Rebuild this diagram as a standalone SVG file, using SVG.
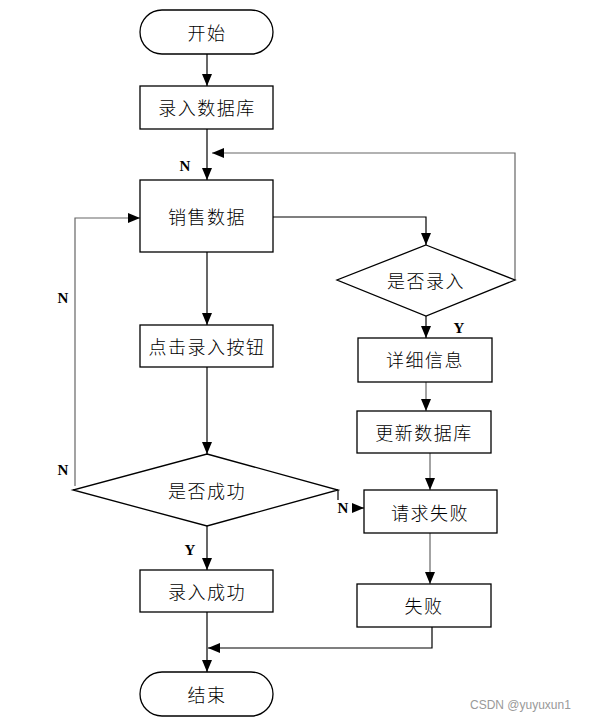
<svg xmlns="http://www.w3.org/2000/svg" width="593" height="721" viewBox="0 0 593 721">
<defs>
<marker id="ah" viewBox="0 0 12 10" refX="12" refY="5" markerWidth="12" markerHeight="10" markerUnits="userSpaceOnUse" orient="auto"><path d="M0,0 L12,5 L0,10 z" fill="#000"/></marker>
<style>
.n rect,.n path{fill:#fff;stroke:#000;stroke-width:1.3}
.t{font-family:"Noto Sans CJK SC","Liberation Serif",serif;font-size:18px;font-weight:300;letter-spacing:1.5px;fill:#000;text-anchor:middle;dominant-baseline:central}
.l{font-family:"Liberation Serif",serif;font-size:15px;font-weight:bold;fill:#000;text-anchor:middle;dominant-baseline:central}
.c path{fill:none;stroke:#000;stroke-width:1.2}
.c path.g{stroke:#666}
.w{font-family:"Liberation Sans",sans-serif;font-size:12px;fill:#999}
</style>
</defs>
<rect width="593" height="721" fill="#fff"/>
<g class="c" id="connectors">
<path d="M207,54 V86" marker-end="url(#ah)"/>
<path d="M207,129 V180" marker-end="url(#ah)"/>
<path class="g" d="M515,280 V153 H212" marker-end="url(#ah)"/>
<path d="M273,217 H426 V245" marker-end="url(#ah)"/>
<path d="M426,316 V338" marker-end="url(#ah)"/>
<path class="g" d="M426,382 V411" marker-end="url(#ah)"/>
<path class="g" d="M430,453 V490" marker-end="url(#ah)"/>
<path class="g" d="M430,533 V584" marker-end="url(#ah)"/>
<path d="M432,627 V648 H208" marker-end="url(#ah)"/>
<path d="M207,252 V325" marker-end="url(#ah)"/>
<path d="M207,367 V454" marker-end="url(#ah)"/>
<path class="g" d="M75,486 V218 H140" marker-end="url(#ah)"/>
<path d="M338,490 V508 H364" marker-end="url(#ah)"/>
<path d="M207,526 V570" marker-end="url(#ah)"/>
<path d="M207,612 V672" marker-end="url(#ah)"/>
</g>
<g class="n" id="start"><rect x="140" y="10" width="133" height="44" rx="22"/><text class="t" x="207" y="32">开始</text></g>
<g class="n" id="luru"><rect x="140" y="86" width="133" height="43"/><text class="t" x="207" y="107">录入数据库</text></g>
<g class="n" id="xiaoshou"><rect x="140" y="180" width="133" height="72"/><text class="t" x="207" y="216">销售数据</text></g>
<g class="n" id="dianji"><rect x="140" y="325" width="133" height="42"/><text class="t" x="207" y="346">点击录入按钮</text></g>
<g class="n" id="shifouchenggong"><path d="M207,454 L338,490 L207,526 L73,490 Z"/><text class="t" x="207" y="490">是否成功</text></g>
<g class="n" id="lurucg"><rect x="140" y="570" width="133" height="42"/><text class="t" x="207" y="591">录入成功</text></g>
<g class="n" id="end"><rect x="140" y="672" width="133" height="44" rx="22"/><text class="t" x="207" y="694">结束</text></g>
<g class="n" id="shifouluru"><path d="M426,245 L515,280 L426,316 L337,280 Z"/><text class="t" x="426" y="280">是否录入</text></g>
<g class="n" id="xiangxi"><rect x="358" y="338" width="134" height="44"/><text class="t" x="425" y="359">详细信息</text></g>
<g class="n" id="gengxin"><rect x="357" y="411" width="134" height="42"/><text class="t" x="424" y="432">更新数据库</text></g>
<g class="n" id="qingqiu"><rect x="364" y="490" width="133" height="43"/><text class="t" x="430" y="512">请求失败</text></g>
<g class="n" id="shibai"><rect x="357" y="584" width="134" height="43"/><text class="t" x="424" y="605">失败</text></g>
<g id="labels">
<text class="l" x="185" y="166">N</text>
<rect x="451" y="320" width="14" height="16" fill="#fff"/>
<text class="l" x="459" y="328">Y</text>
<text class="l" x="63" y="298">N</text>
<text class="l" x="63" y="470">N</text>
<rect x="336" y="500" width="16" height="16" fill="#fff"/>
<text class="l" x="343" y="508">N</text>
<text class="l" x="190" y="550">Y</text>
</g>
<text class="w" x="470" y="709">CSDN @yuyuxun1</text>
</svg>
